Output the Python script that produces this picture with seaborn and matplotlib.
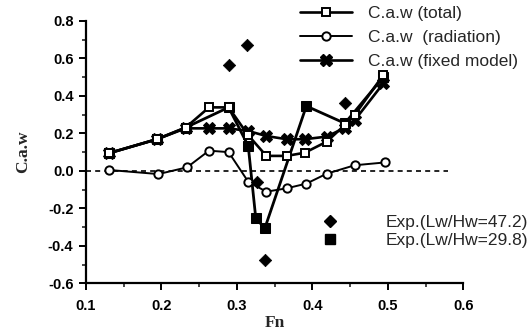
import numpy as np
import pandas as pd
import matplotlib
matplotlib.use("Agg")
import matplotlib.pyplot as plt
from matplotlib.lines import Line2D
from matplotlib.ticker import MultipleLocator
import seaborn as sns

# ---- data ----
fn_total = [0.130, 0.194, 0.232, 0.263, 0.289, 0.315, 0.339, 0.366, 0.390, 0.419, 0.443, 0.456, 0.494]
caw_total = [0.094, 0.169, 0.231, 0.339, 0.339, 0.190, 0.080, 0.080, 0.097, 0.156, 0.245, 0.298, 0.512]

fn_rad = [0.130, 0.196, 0.234, 0.263, 0.289, 0.315, 0.339, 0.366, 0.392, 0.419, 0.456, 0.496]
caw_rad = [0.005, -0.017, 0.019, 0.108, 0.100, -0.058, -0.111, -0.093, -0.068, -0.015, 0.030, 0.045]

fn_fixed = [0.130, 0.194, 0.232, 0.263, 0.289, 0.315, 0.339, 0.366, 0.390, 0.419, 0.443, 0.456, 0.494]
caw_fixed = [0.094, 0.169, 0.227, 0.227, 0.227, 0.213, 0.186, 0.169, 0.169, 0.183, 0.230, 0.270, 0.467]

fn_exp47 = [0.289, 0.314, 0.326, 0.337, 0.443]
caw_exp47 = [0.565, 0.672, -0.058, -0.475, 0.361]

fn_exp30 = [0.130, 0.194, 0.232, 0.289, 0.315, 0.325, 0.337, 0.392, 0.443, 0.494]
caw_exp30 = [0.094, 0.169, 0.231, 0.339, 0.133, -0.253, -0.306, 0.346, 0.254, 0.500]

labels_lines = ["C.a.w (total)", "C.a.w  (radiation)", "C.a.w (fixed model)"]
labels_exp = ["Exp.(Lw/Hw=47.2)", "Exp.(Lw/Hw=29.8)"]
xlabel = "Fn"
ylabel = "C.a.w"

sns.set_style("ticks")
plt.rcParams['font.family'] = ['Liberation Sans', 'DejaVu Sans']

W, H = 529, 334
fig = plt.figure(figsize=(W / 100, H / 100), dpi=100)
ax = fig.add_axes([86 / W, 1 - 283.3 / H, (463.3 - 86) / W, (283.3 - 21) / H])

lw = 1.9
# zero reference line
ax.plot([0.1, 0.58], [0, 0], ls=(0, (3, 2.5)), color="black", lw=1.2, zorder=1)

# experiment 29.8 curve (line through solid squares)
sns.lineplot(x=fn_exp30, y=caw_exp30, ax=ax, sort=False, color="black", lw=2.0,
             marker="s", markersize=7, markerfacecolor="black", markeredgecolor="black",
             estimator=None, legend=False, zorder=3)
sns.lineplot(x=fn_fixed, y=caw_fixed, ax=ax, sort=False, color="black", lw=lw,
             marker="X", markersize=8, markerfacecolor="black", markeredgecolor="black",
             estimator=None, legend=False, zorder=4)
sns.lineplot(x=fn_total, y=caw_total, ax=ax, sort=False, color="black", lw=lw,
             marker="s", markersize=6, markerfacecolor="white", markeredgecolor="black",
             markeredgewidth=1.4, estimator=None, legend=False, zorder=5)
sns.lineplot(x=fn_rad, y=caw_rad, ax=ax, sort=False, color="black", lw=1.4,
             marker="o", markersize=6, markerfacecolor="white", markeredgecolor="black",
             markeredgewidth=1.4, estimator=None, legend=False, zorder=5)
sns.scatterplot(x=fn_exp47, y=caw_exp47, ax=ax, marker="D", s=40, color="black",
                edgecolor="black", legend=False, zorder=6)

ax.set_xlim(0.1, 0.6)
ax.set_ylim(-0.6, 0.8)
ax.xaxis.set_major_locator(MultipleLocator(0.1))
ax.xaxis.set_minor_locator(MultipleLocator(0.05))
ax.yaxis.set_major_locator(MultipleLocator(0.2))
ax.yaxis.set_minor_locator(MultipleLocator(0.1))
ax.set_xticklabels([f"{v:.1f}" for v in ax.get_xticks()])
ax.set_yticklabels([f"{v:.1f}" for v in ax.get_yticks()])
ax.tick_params(axis="both", which="major", direction="out", length=5, width=1.4,
               labelsize=10.5, pad=4, colors="black")
ax.tick_params(axis="x", which="major", pad=6)
ax.tick_params(axis="both", which="minor", direction="out", length=3, width=1.2)
for lab in ax.get_xticklabels() + ax.get_yticklabels():
    lab.set_fontweight("bold")
sns.despine(ax=ax)
for sp in ("left", "bottom"):
    ax.spines[sp].set_linewidth(1.6)
    ax.spines[sp].set_color("black")

ax.set_xlabel(xlabel, family=["Liberation Serif", "DejaVu Serif"], fontweight="bold",
              fontsize=12.5, labelpad=2)
ax.set_ylabel(ylabel, family=["Liberation Serif", "DejaVu Serif"], fontweight="bold",
              fontsize=12.5, labelpad=12)

# legends
h1 = [
    Line2D([], [], color="black", lw=lw, marker="s", markersize=6, markerfacecolor="white",
           markeredgecolor="black", markeredgewidth=1.4),
    Line2D([], [], color="black", lw=1.4, marker="o", markersize=6, markerfacecolor="white",
           markeredgecolor="black", markeredgewidth=1.4),
    Line2D([], [], color="black", lw=lw, marker="X", markersize=8, markerfacecolor="black",
           markeredgecolor="black"),
]
leg1 = ax.legend(h1, labels_lines, loc="upper left", bbox_to_anchor=(300 / W, 1 - 6 / H),
                 bbox_transform=fig.transFigure, frameon=False, handlelength=3.0,
                 handletextpad=0.9, labelspacing=0.5, borderpad=0, borderaxespad=0,
                 fontsize=12.5, markerfirst=True)
ax.add_artist(leg1)
h2 = [
    Line2D([], [], ls="none", marker="D", markersize=6, color="black"),
    Line2D([], [], ls="none", marker="s", markersize=7, color="black"),
]
ax.legend(h2, labels_exp, loc="upper left", bbox_to_anchor=(320 / W, 1 - 215 / H),
          bbox_transform=fig.transFigure, frameon=False, handlelength=1.2,
          handletextpad=2.6, labelspacing=0.15, borderpad=0, borderaxespad=0,
          fontsize=12.5)

fig.savefig("out.png", dpi=100)
